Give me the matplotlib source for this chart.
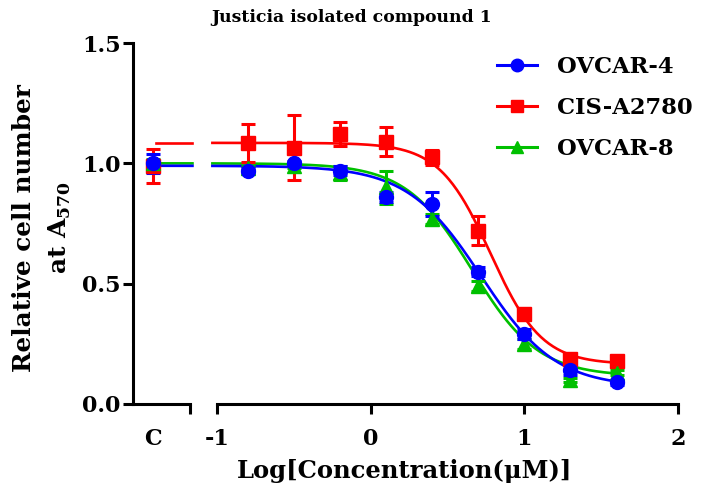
import numpy as np
import matplotlib
matplotlib.use("Agg")
import matplotlib.pyplot as plt
from matplotlib.lines import Line2D

plt.rcParams['font.family'] = ['DejaVu Serif']
plt.rcParams['font.weight'] = 'bold'
plt.rcParams['mathtext.fontset'] = 'custom'
plt.rcParams['mathtext.rm'] = 'DejaVu Serif:bold'

# ---- data ----
series = ["OVCAR-4", "CIS-A2780", "OVCAR-8"]
colors = ["#0000ff", "#ff0000", "#00c000"]
markers = ["o", "s", "^"]
log_conc = [-0.8, -0.5, -0.2, 0.1, 0.4, 0.7, 1.0, 1.3, 1.6]

ovcar4 = [0.97, 1.00, 0.97, 0.86, 0.83, 0.55, 0.29, 0.14, 0.09]
ovcar4_err = [0.01, 0.01, 0.02, 0.02, 0.05, 0.02, 0.02, 0.02, 0.01]
cis = [1.085, 1.065, 1.12, 1.09, 1.025, 0.72, 0.375, 0.185, 0.18]
cis_err = [0.08, 0.135, 0.05, 0.06, 0.03, 0.06, 0.02, 0.02, 0.02]
ovcar8 = [0.98, 0.99, 0.96, 0.90, 0.77, 0.49, 0.25, 0.10, 0.13]
ovcar8_err = [0.01, 0.01, 0.03, 0.07, 0.02, 0.02, 0.02, 0.01, 0.01]

control = [1.00, 0.99, 1.00]
control_err = [0.04, 0.07, 0.02]

# fitted 4PL parameters (top, bottom, logIC50, hill)
fit_top = [0.99, 1.085, 1.00]
fit_bottom = [0.07, 0.165, 0.115]
fit_logic50 = [0.72, 0.78, 0.66]
fit_hill = [1.8, 2.6, 2.0]

values = [ovcar4, cis, ovcar8]
errors = [ovcar4_err, cis_err, ovcar8_err]

def logistic(x, top, bottom, ic, h):
    return bottom + (top - bottom) / (1 + 10 ** ((x - ic) * h))

# ---- figure ----
W, H = 706, 492
fig = plt.figure(figsize=(W / 100, H / 100), dpi=100)

def frac(x0, x1, ytop, ybot):
    return [x0 / W, 1 - ybot / H, (x1 - x0) / W, (ybot - ytop) / H]

axL = fig.add_axes(frac(133, 190, 43, 404))
axR = fig.add_axes(frac(217, 678, 43, 404), sharey=axL)

c_pos = -1.42
axL.set_xlim(-1.547, -1.176)
axR.set_xlim(-1.0, 2.0)
axL.set_ylim(0, 1.5)

order = [1, 2, 0]
for i in order:
    col = colors[i]
    xr = np.linspace(-1.03, 1.6, 300)
    yr = logistic(xr, fit_top[i], fit_bottom[i], fit_logic50[i], fit_hill[i])
    axR.plot(xr, yr, color=col, lw=1.9, clip_on=False, zorder=2)
    xl = np.linspace(c_pos + 0.02, -1.16, 50)
    yl = logistic(xl, fit_top[i], fit_bottom[i], fit_logic50[i], fit_hill[i])
    axL.plot(xl, yl, color=col, lw=1.9, clip_on=False, zorder=2)
    axR.errorbar(log_conc, values[i], yerr=errors[i], fmt=markers[i], color=col,
                 ms=10, elinewidth=2.2, capsize=5, capthick=2.2, zorder=3, clip_on=False)
    axL.errorbar([c_pos], [control[i]], yerr=[control_err[i]], fmt=markers[i], color=col,
                 ms=10, elinewidth=2.2, capsize=5, capthick=2.2, zorder=3, clip_on=False)

for ax in (axL, axR):
    for s in ('top', 'right'):
        ax.spines[s].set_visible(False)
    ax.spines['bottom'].set_linewidth(2.2)
    ax.spines['left'].set_linewidth(2.2)
    ax.tick_params(direction='out', width=2.2, length=7, labelsize=16)

axR.spines['left'].set_visible(False)
axR.tick_params(axis='y', left=False, labelleft=False)
axR.set_xticks([-1, 0, 1, 2])
axR.set_xticklabels(['-1', '0', '1', '2'])
axR.tick_params(axis='x', pad=10)

axL.set_yticks([0, 0.5, 1.0, 1.5])
axL.set_yticklabels(['0.0', '0.5', '1.0', '1.5'])
axL.tick_params(axis='y', pad=2)
axL.set_xticks([c_pos])
axL.set_xticklabels(['C'])
axL.tick_params(axis='x', length=0, pad=17)
axL.set_xticks([-1.176], minor=True)
axL.tick_params(axis='x', which='minor', direction='out', width=2.2, length=7)

for ax in (axL, axR):
    for lab in ax.get_xticklabels() + ax.get_yticklabels():
        lab.set_fontweight('bold')

fig.text(24 / W, 1 - 228 / H, 'Relative cell number', rotation=90, ha='center', va='center',
         fontsize=17.8, fontweight='bold')
fig.text(60 / W, 1 - 228 / H, 'at A$_{570}$', rotation=90, ha='center', va='center',
         fontsize=17.8, fontweight='bold')

fig.text(405 / W, 1 - 471 / H, 'Log[Concentration(\u03bcM)]', ha='center', va='center',
         fontsize=17.5, fontweight='bold')
fig.text(352 / W, 1 - 18 / H, 'Justicia isolated compound 1', ha='center', va='center',
         fontsize=12.4, fontweight='bold')

handles = [Line2D([], [], color=colors[i], marker=markers[i], lw=2.2, ms=9) for i in range(3)]
leg = fig.legend(handles, series, loc='upper left', bbox_to_anchor=(497 / W, 1 - 56 / H),
                 frameon=False, prop={'weight': 'bold', 'size': 16.3},
                 borderpad=0, borderaxespad=0,
                 handlelength=1.78, handletextpad=0.85, labelspacing=0.83)

fig.savefig('out.png', dpi=100)
